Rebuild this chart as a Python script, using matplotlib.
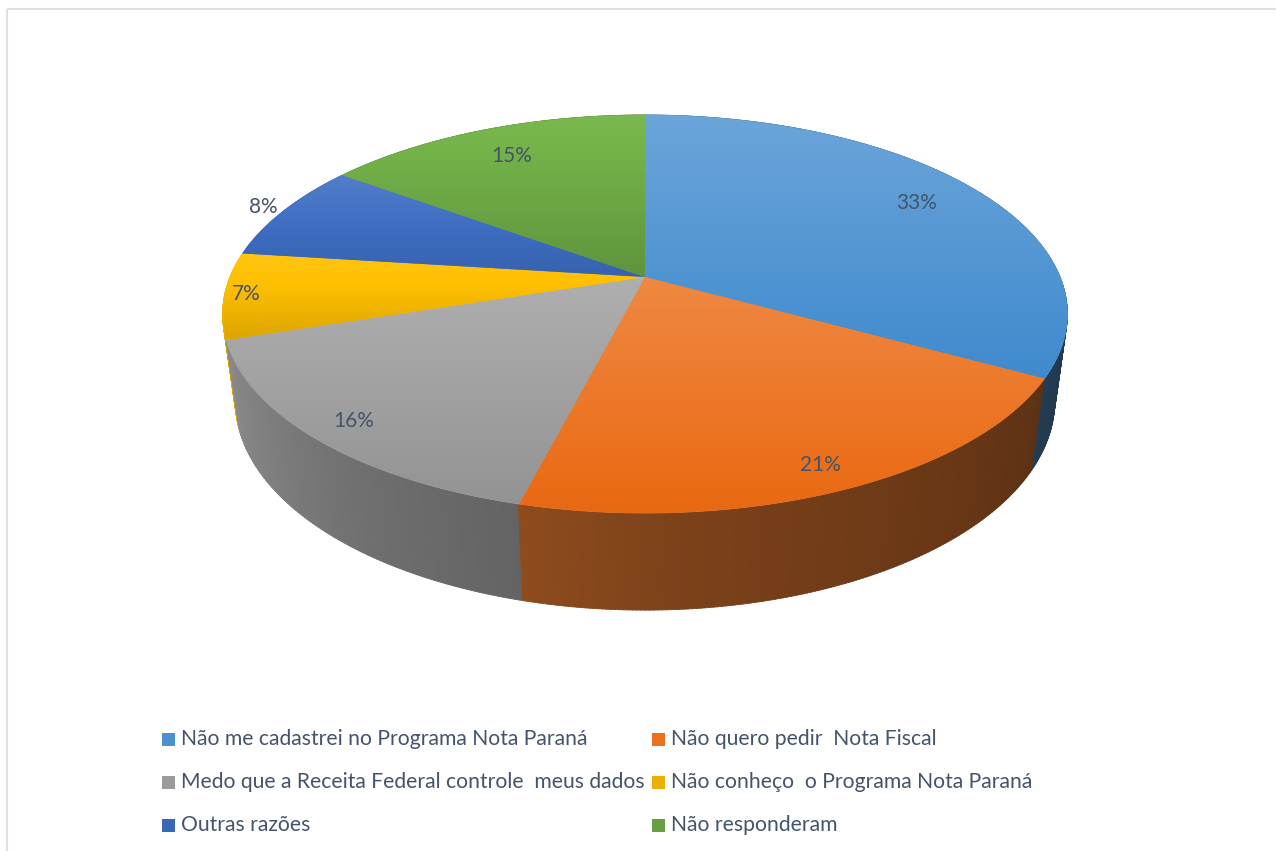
import numpy as np
import matplotlib.pyplot as plt
from matplotlib.patches import Polygon, Rectangle
from matplotlib.collections import PolyCollection
import matplotlib.colors as mcolors
import colorsys

categories = ['Não me cadastrei no Programa Nota Paraná',
              'Não quero pedir  Nota Fiscal',
              'Medo que a Receita Federal controle  meus dados',
              'Não conheço  o Programa Nota Paraná',
              'Outras razões',
              'Não responderam']
values = [33, 21, 16, 7, 8, 15]
labels = ['33%', '21%', '16%', '7%', '8%', '15%']
colors = ['#5B9BD5', '#ED7D31', '#A5A5A5', '#FFC000', '#4472C4', '#70AD47']
label_r = [0.82, 0.9, 0.9, 0.95, 1.06, 0.8]

plt.rcParams['font.family'] = ['Lato', 'DejaVu Sans']
TXT = '#44546A'

# perspective view of the disc, in screen pixels
CX, CY = 645, 277
R, K, P, Q, H = 415, 0.463, 0.186, 0.03, 89


def project(theta, r=1.0, z=0.0):
    X = r * np.cos(theta)
    Y = r * np.sin(theta)
    w = 1 + P * Y + Q * z
    return CX + R * X / w, CY + (-R * K * Y + H * z) / w


def shift_light(c, d):
    h, l, s = colorsys.rgb_to_hls(*c)
    return colorsys.hls_to_rgb(h, min(max(l + d, 0), 1), s)


fig = plt.figure(figsize=(12.76, 8.51), dpi=100)
ax = fig.add_axes([0, 0, 1, 1])
ax.set_xlim(0, 1276)
ax.set_ylim(851, 0)
ax.axis('off')

ax.add_patch(Rectangle((7, 9), 1400, 1000, fill=False, edgecolor='#DEE2E8', lw=1.5))

vals = np.array(values, dtype=float)
bounds = np.pi / 2 - 2 * np.pi * np.concatenate([[0], np.cumsum(vals)]) / vals.sum()
rgb = [np.array(mcolors.to_rgb(c)) for c in colors]

# side wall, drawn back to front
step = np.radians(0.5)
ths = np.arange(bounds[-1], bounds[0], step)
quads, qcol, depth = [], [], []
sh_x = [-180, -170, -127, -104, -85, -25, 0, 180]
sh_f = [0.92, 0.88, 0.68, 0.6, 0.52, 0.38, 0.36, 0.9]
for t0 in ths:
    t1 = min(t0 + step * 1.05, bounds[0])
    tm = (t0 + t1) / 2
    idx = np.searchsorted(-bounds, -tm) - 1
    idx = int(np.clip(idx, 0, len(values) - 1))
    a = np.degrees(np.arctan2(np.sin(tm), np.cos(tm)))
    f = np.interp(a, sh_x, sh_f)
    p = [project(t0), project(t1), project(t1, z=1), project(t0, z=1)]
    quads.append(p)
    qcol.append(np.clip(rgb[idx] * f, 0, 1))
    depth.append(np.sin(tm))
order = np.argsort(depth)[::-1]
pc = PolyCollection([quads[i] for i in order], facecolors=[qcol[i] for i in order],
                    edgecolors=[qcol[i] for i in order], linewidths=0.6)
ax.add_collection(pc)

# top face, each slice with its own top-to-bottom gradient
for i, base in enumerate(rgb):
    th = np.linspace(bounds[i], bounds[i + 1], 200)
    xs, yy = project(th)
    pts = np.column_stack([np.r_[CX, xs], np.r_[CY, yy]])
    ax.add_patch(Polygon(pts, closed=True, facecolor=base, edgecolor=base, lw=0.5))
    y0, y1 = pts[:, 1].min(), pts[:, 1].max()
    x0, x1 = pts[:, 0].min(), pts[:, 0].max()
    tt = np.linspace(0, 1, 300)
    grad = np.array([shift_light(base, 0.04 - 0.11 * t) for t in tt])
    img = np.repeat(grad[:, None, :], 2, axis=1)
    clip = Polygon(pts, closed=True, facecolor='none', edgecolor='none', transform=ax.transData)
    ax.add_patch(clip)
    im = ax.imshow(img, extent=(x0 - 2, x1 + 2, y1 + 1, y0 - 1), origin='upper', aspect='auto',
                   interpolation='bilinear', zorder=3)
    im.set_clip_path(clip)

    tm = (bounds[i] + bounds[i + 1]) / 2
    lx, ly = project(tm, r=label_r[i])
    ax.text(lx, ly, labels[i], ha='center', va='center', fontsize=15, color=TXT, zorder=5)

ax.set_xlim(0, 1276)
ax.set_ylim(851, 0)

# legend
col_x = [162, 652]
row_y = [739, 782, 825]
for i, name in enumerate(categories):
    x0 = col_x[i % 2]
    y0 = row_y[i // 2]
    ax.add_patch(Rectangle((x0, y0 - 6.5), 13, 13, facecolor=shift_light(rgb[i], -0.04),
                           edgecolor='none'))
    ax.text(x0 + 19, y0, name, ha='left', va='center', fontsize=15.2, color=TXT)

fig.savefig('out.png', dpi=100)
